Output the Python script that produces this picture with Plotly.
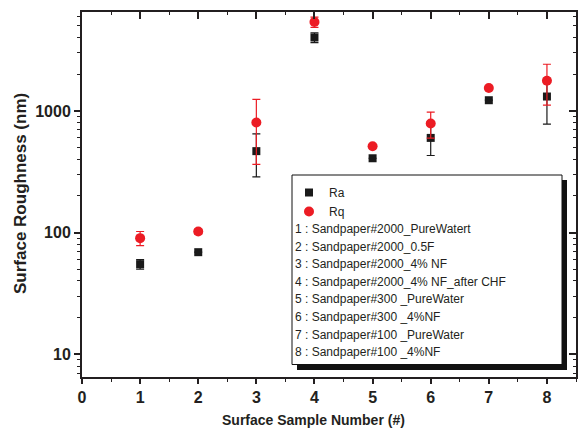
import math
import plotly.graph_objects as go

# ---- data ----
samples = [1, 2, 3, 4, 5, 6, 7, 8]
ra = [55, 69, 467, 4010, 408, 600, 1224, 1313]
ra_err = [5, 0, 180, 370, 0, 170, 0, 535]
rq = [90, 102, 804, 5380, 513, 787, 1545, 1767]
rq_err = [12, 5, 440, 530, 0, 190, 0, 650]
x_ticks = [0, 1, 2, 3, 4, 5, 6, 7, 8]
y_ticks = [10, 100, 1000]
y_ticktext = ["10", "100", "1000"]
legend_lines = [
    "1 : Sandpaper#2000_PureWatert",
    "2 : Sandpaper#2000_0.5F",
    "3 : Sandpaper#2000_4% NF",
    "4 : Sandpaper#2000_4% NF_after CHF",
    "5 : Sandpaper#300 _PureWater",
    "6 : Sandpaper#300 _4%NF",
    "7 : Sandpaper#100 _PureWater",
    "8 : Sandpaper#100 _4%NF",
]

W, H = 582, 430
L, R, T, B = 82, 6, 12, 53
PW, PH = W - L - R, H - T - B
FONT = "Liberation Sans, Arial, Helvetica, sans-serif"
INK = "#231f20"
RED = "#ec1c24"


def px(x):
    return (x - L) / PW


def py(y):
    return (H - B - y) / PH


yr = [math.log10(6.5), math.log10(6500)]
minor_vals = [m * 10 ** d for d in range(0, 4) for m in range(2, 10)]

fig = go.Figure()
fig.add_trace(go.Scatter(
    x=samples, y=ra, mode="markers", name="Ra",
    marker=dict(symbol="square", size=8, color="#1a1a1a"),
    error_y=dict(type="data", array=ra_err, color="#1a1a1a", thickness=1.2, width=4),
))
fig.add_trace(go.Scatter(
    x=samples, y=rq, mode="markers", name="Rq",
    marker=dict(symbol="circle", size=10, color=RED),
    error_y=dict(type="data", array=rq_err, color=RED, thickness=1.2, width=4),
))
fig.add_trace(go.Scatter(x=[None], y=[None], xaxis="x2", yaxis="y2",
                         showlegend=False, hoverinfo="skip"))

tickfont = dict(family=FONT, size=16, color=INK, weight="bold")

shapes = [
    dict(type="rect", xref="paper", yref="paper", x0=px(297), x1=px(567),
         y0=py(370), y1=py(180), fillcolor="#111", line=dict(width=0), layer="above"),
    dict(type="rect", xref="paper", yref="paper", x0=px(292), x1=px(562),
         y0=py(364.5), y1=py(175), fillcolor="white",
         line=dict(width=1, color="#111"), layer="above"),
]

annotations = [
    dict(text="Surface Sample Number (#)", xref="paper", yref="paper",
         x=px(313), y=py(420), xanchor="center", yanchor="middle", showarrow=False,
         font=dict(family=FONT, size=14, color=INK, weight="bold")),
    dict(text="Surface Roughness (nm)", xref="paper", yref="paper",
         x=px(21), y=py(194), xanchor="center", yanchor="middle", showarrow=False,
         textangle=-90, font=dict(family=FONT, size=17, color=INK, weight="bold")),
]
for i, t in enumerate(legend_lines):
    annotations.append(dict(
        text=t, xref="paper", yref="paper", x=px(293), y=py(229 + 17.6 * i),
        xanchor="left", yanchor="middle", showarrow=False,
        font=dict(family=FONT, size=12, color=INK)))

fig.update_layout(
    width=W, height=H, autosize=False,
    margin=dict(l=L, r=R, t=T, b=B),
    paper_bgcolor="white", plot_bgcolor="white",
    font=dict(family=FONT, color=INK),
    showlegend=True,
    legend=dict(x=px(289), y=py(178), xanchor="left", yanchor="top",
                bgcolor="rgba(0,0,0,0)", borderwidth=0, tracegroupgap=0,
                font=dict(family=FONT, size=12, color=INK)),
    xaxis=dict(range=[0, 8.5], tickmode="array", tickvals=x_ticks,
               ticks="outside", ticklen=5, tickwidth=1.5, tickcolor=INK,
               showline=True, linewidth=2, linecolor=INK, showgrid=False,
               zeroline=False, tickfont=tickfont,
               minor=dict(tick0=0.5, dtick=1, ticks="outside", ticklen=3,
                          tickwidth=1.2, tickcolor=INK, showgrid=False)),
    yaxis=dict(type="log", range=yr, tickmode="array", tickvals=y_ticks,
               ticktext=y_ticktext, ticks="outside", ticklen=6, tickwidth=1.5,
               tickcolor=INK, showline=True, linewidth=2, linecolor=INK,
               showgrid=False, zeroline=False, tickfont=tickfont,
               minor=dict(tickmode="array", tickvals=minor_vals, ticks="outside",
                          ticklen=3, tickwidth=1.2, tickcolor=INK, showgrid=False)),
    xaxis2=dict(range=[0, 8.5], overlaying="x", side="top", anchor="y",
                tickmode="array", tickvals=x_ticks, ticks="inside", ticklen=7,
                tickwidth=1.5, tickcolor=INK, showticklabels=False,
                showline=True, linewidth=2, linecolor=INK, showgrid=False,
                zeroline=False,
                minor=dict(tick0=0.5, dtick=1, ticks="inside", ticklen=3,
                           tickwidth=1.2, tickcolor=INK, showgrid=False)),
    yaxis2=dict(type="log", range=yr, overlaying="y", side="right", anchor="x",
                tickmode="array", tickvals=y_ticks, ticks="inside", ticklen=7,
                tickwidth=1.5, tickcolor=INK, showticklabels=False,
                showline=True, linewidth=2, linecolor=INK, showgrid=False,
                zeroline=False,
                minor=dict(tickmode="array", tickvals=minor_vals, ticks="inside",
                           ticklen=3, tickwidth=1.2, tickcolor=INK, showgrid=False)),
    shapes=shapes,
    annotations=annotations,
)

fig.write_html("out.html")
